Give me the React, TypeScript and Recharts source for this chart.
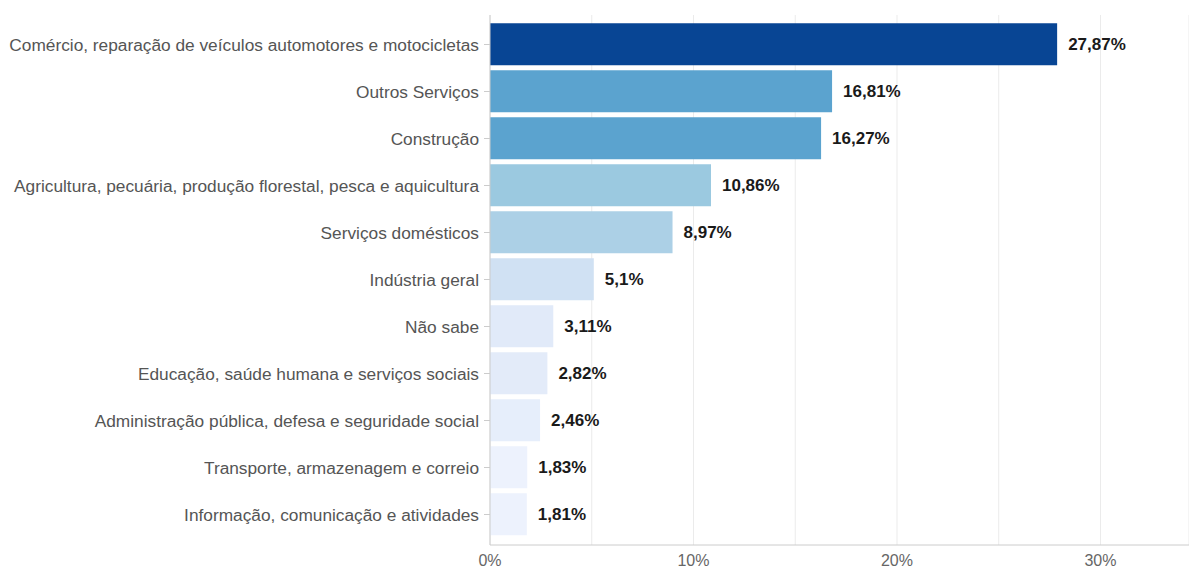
import { BarChart, Bar, XAxis, YAxis, CartesianGrid, Cell, LabelList } from "recharts";

// setores, do maior para o menor
const categories = [
  "Comércio, reparação de veículos automotores e motocicletas",
  "Outros Serviços",
  "Construção",
  "Agricultura, pecuária, produção florestal, pesca e aquicultura",
  "Serviços domésticos",
  "Indústria geral",
  "Não sabe",
  "Educação, saúde humana e serviços sociais",
  "Administração pública, defesa e seguridade social",
  "Transporte, armazenagem e correio",
  "Informação, comunicação e atividades",
];

const shares = [27.87, 16.81, 16.27, 10.86, 8.97, 5.1, 3.11, 2.82, 2.46, 1.83, 1.81];

const xTicks = [0, 5, 10, 15, 20, 25, 30];
const xTickLabels: Record<number, string> = { 0: "0%", 10: "10%", 20: "20%", 30: "30%" };

// one shade per bar (sequential blues)
const COLORS = [
  "#084594",
  "#5ba3cf",
  "#5ba3cf",
  "#9bc9e0",
  "#acd0e6",
  "#d0e1f3",
  "#e1eaf9",
  "#e3ebf9",
  "#e6eefb",
  "#edf2fd",
  "#edf2fd",
];

const FONT = '"Liberation Sans", Arial, sans-serif';

export default function App() {
  const data = categories.map((name, i) => ({ name, value: shares[i] }));

  return (
    <div style={{ position: "absolute", left: 0, top: 0, background: "#fff" }}>
      <BarChart
        width={1189}
        height={568}
        data={data}
        layout="vertical"
        margin={{ top: 15, right: 0, bottom: 0, left: 0 }}
        barCategoryGap="5%"
        style={{ fontFamily: FONT }}
      >
        <CartesianGrid horizontal={false} stroke="#ebebeb" />
        <XAxis
          type="number"
          domain={[0, 34.35]}
          ticks={xTicks}
          tickFormatter={(v: number) => xTickLabels[v] ?? ""}
          tick={{ fontSize: 16, fill: "#666" }}
          axisLine={{ stroke: "#ccc" }}
          tickLine={false}
          tickMargin={4}
          height={23}
          allowDataOverflow
        />
        <XAxis
          xAxisId="top"
          type="number"
          orientation="top"
          domain={[0, 34.35]}
          height={0}
          tick={false}
          tickLine={false}
          axisLine={{ stroke: "#ddd" }}
        />
        <YAxis
          type="category"
          dataKey="name"
          width={490}
          padding={{ top: 6, bottom: 7 }}
          tick={{ fontSize: 17.3, fill: "#555" }}
          tickSize={6}
          tickMargin={5}
          tickLine={{ stroke: "#ccc" }}
          axisLine={{ stroke: "#ccc" }}
          interval={0}
        />
        <Bar dataKey="value" isAnimationActive={false}>
          {data.map((_, i) => (
            <Cell key={i} fill={COLORS[i]} />
          ))}
          <LabelList
            dataKey="value"
            position="right"
            offset={11}
            formatter={(v: number) => `${String(v).replace(".", ",")}%`}
            style={{ fontSize: 17, fontWeight: 700, fill: "#1a1a1a" }}
          />
        </Bar>
      </BarChart>
    </div>
  );
}
